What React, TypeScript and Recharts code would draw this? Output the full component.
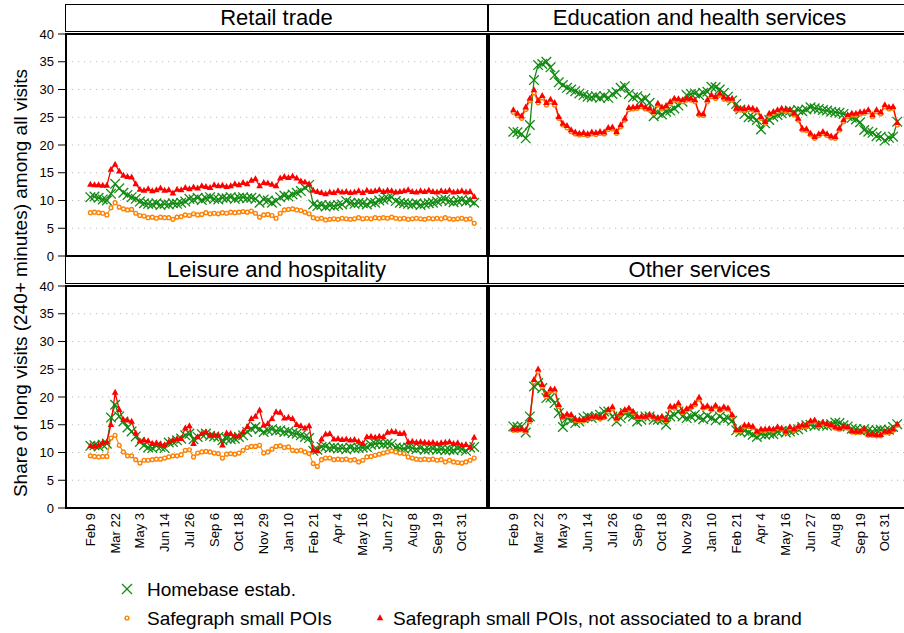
import React from 'react';
import { LineChart, Line, XAxis, YAxis, CartesianGrid } from 'recharts';

const FONT = '"Liberation Sans", Arial, Helvetica, sans-serif';
const GREEN = '#138a13';
const ORANGE = '#ff8000';
const RED = '#ff0000';

// weekly observations, first week = Feb 9 2020
const TICK_WEEKS = [0, 6, 12, 18, 24, 30, 36, 42, 48, 54, 60, 66, 72, 78, 84, 90];
const TICK_LABELS = ['Feb 9', 'Mar 22', 'May 3', 'Jun 14', 'Jul 26', 'Sep 6', 'Oct 18', 'Nov 29',
  'Jan 10', 'Feb 21', 'Apr 4', 'May 16', 'Jun 27', 'Aug 8', 'Sep 19', 'Oct 31'];
const Y_TICKS = [0, 5, 10, 15, 20, 25, 30, 35, 40];
const GRID_VALUES = [5, 10, 15, 20, 25, 30, 35];

// Retail trade
const RT_HB = [10.6, 10.7, 10.5, 10.2, 10.0, 11.2, 13.0, 12.2, 11.4, 11.0, 10.6, 10.3,
  9.8, 9.5, 9.4, 9.3, 9.5, 9.2, 9.4, 9.3, 9.5, 9.4, 9.6, 9.8,
  10.3, 10.2, 10.5, 10.1, 10.4, 10.6, 10.3, 10.2, 10.5, 10.4, 10.6, 10.3,
  10.5, 10.6, 10.4, 10.5, 10.3, 9.6, 10.2, 10.0, 9.6, 9.9, 10.6, 10.9,
  10.7, 11.1, 11.4, 11.7, 12.3, 12.8, 9.3, 9.0, 9.2, 8.9, 9.1, 9.0,
  9.2, 9.3, 9.9, 9.6, 9.4, 9.6, 9.5, 9.3, 9.7, 9.6, 10.0, 10.2,
  10.4, 10.6, 9.9, 9.6, 9.5, 9.4, 9.3, 9.5, 9.2, 9.4, 9.5, 9.6,
  9.8, 10.1, 10.2, 9.9, 9.7, 9.9, 10.1, 9.8, 10.0, 9.6];
const RT_SG = [7.8, 7.9, 7.8, 7.7, 7.4, 8.7, 9.6, 8.8, 8.5, 8.3, 8.4, 7.7,
  7.3, 7.2, 6.9, 7.0, 6.8, 7.0, 6.9, 6.9, 6.6, 7.0, 7.1, 7.4,
  7.3, 7.6, 7.4, 7.5, 7.8, 7.6, 7.7, 7.6, 7.8, 7.7, 7.9, 7.8,
  7.9, 8.0, 7.9, 8.1, 7.7, 7.0, 7.4, 7.5, 7.3, 6.8, 7.7, 8.3,
  8.4, 8.5, 8.3, 8.2, 7.9, 7.6, 6.9, 6.7, 6.8, 6.5, 6.6, 6.7,
  6.6, 6.8, 6.7, 6.6, 6.7, 6.9, 6.7, 6.8, 6.7, 6.9, 6.8, 6.9,
  6.8, 7.0, 6.8, 6.7, 6.8, 6.6, 6.7, 6.8, 6.7, 6.6, 6.8, 6.7,
  6.8, 6.7, 6.9, 6.7, 6.6, 6.7, 6.8, 6.6, 6.7, 5.9];
const RT_SGNB = [12.9, 12.8, 12.8, 12.7, 12.7, 15.6, 16.5, 15.3, 14.5, 14.3, 14.2, 13.0,
  12.0, 11.8, 12.1, 11.7, 11.9, 12.2, 11.8, 11.9, 11.3, 12.0, 11.9, 12.3,
  12.1, 12.4, 12.2, 12.6, 12.5, 12.3, 12.8, 12.6, 12.7, 12.5, 12.6, 13.0,
  12.8, 13.2, 13.0, 13.6, 13.9, 12.6, 13.2, 13.1, 12.9, 12.6, 14.0, 14.3,
  14.1, 14.4, 14.0, 13.5, 13.3, 13.0, 11.8, 11.6, 11.4, 11.2, 11.5, 11.4,
  11.7, 11.5, 11.6, 11.4, 11.5, 11.7, 11.4, 11.8, 11.6, 11.7, 11.9, 11.6,
  11.8, 11.7, 11.5, 11.6, 11.7, 11.9, 11.6, 11.5, 11.7, 11.6, 11.8, 11.6,
  11.5, 11.7, 11.6, 11.8, 11.5, 11.6, 11.7, 11.5, 11.6, 10.7];

// Education and health services
const ED_HB = [22.4, 22.3, 22.0, 21.2, 23.6, 31.7, 34.4, 34.6, 35.0, 34.0, 32.6, 31.3,
  30.8, 30.3, 30.0, 29.7, 29.3, 29.0, 28.7, 28.6, 28.8, 28.5, 28.8, 28.5,
  29.2, 29.5, 30.3, 30.6, 29.2, 28.6, 28.8, 28.1, 28.4, 27.6, 25.2, 25.8,
  25.5, 26.0, 26.2, 26.6, 27.1, 27.8, 29.0, 29.2, 29.3, 29.0, 29.4, 29.6,
  30.5, 30.4, 30.0, 29.4, 28.7, 28.0, 27.4, 26.4, 25.6, 25.0, 25.0, 24.5,
  22.8, 23.9, 24.5, 25.1, 25.4, 25.7, 26.0, 26.2, 26.0, 26.3, 26.1, 26.4,
  26.8, 26.6, 26.5, 26.3, 26.2, 26.0, 25.9, 25.8, 25.6, 25.2, 24.9, 24.6,
  24.1, 22.7, 22.4, 22.2, 21.6, 21.5, 20.8, 21.3, 21.5, 24.2];
const ED_SG = [25.9, 25.3, 24.8, 26.4, 28.0, 29.4, 27.6, 28.5, 27.2, 27.8, 27.2, 24.8,
  23.6, 23.1, 22.4, 22.0, 21.8, 21.9, 21.7, 22.0, 21.9, 22.1, 22.0, 22.8,
  22.9, 22.1, 23.3, 24.5, 26.4, 26.5, 26.6, 26.9, 26.5, 26.3, 25.7, 27.2,
  26.5, 26.8, 27.5, 28.1, 28.0, 27.8, 28.1, 28.1, 27.8, 25.4, 25.3, 27.8,
  28.7, 28.4, 29.0, 28.3, 28.1, 28.1, 26.3, 26.3, 26.2, 26.4, 26.3, 26.0,
  24.8, 23.9, 25.4, 25.7, 26.0, 26.3, 26.1, 26.0, 25.4, 24.5, 22.7, 22.6,
  21.8, 21.2, 21.7, 22.1, 21.7, 21.3, 21.2, 22.7, 24.2, 25.1, 25.4, 25.4,
  25.6, 25.7, 26.0, 25.1, 26.0, 25.6, 26.9, 26.5, 26.6, 23.6];
const ED_SGNB = [26.3, 25.7, 25.2, 26.8, 28.4, 29.9, 28.0, 28.9, 27.6, 28.2, 27.6, 25.1,
  23.9, 23.5, 22.7, 22.3, 22.1, 22.2, 22.0, 22.3, 22.2, 22.4, 22.3, 23.1,
  23.2, 22.4, 23.6, 24.8, 26.7, 26.8, 26.9, 27.2, 26.8, 26.6, 26.0, 27.5,
  26.8, 27.1, 27.8, 28.4, 28.3, 28.1, 28.4, 28.4, 28.1, 25.7, 25.6, 28.1,
  29.0, 28.7, 29.3, 28.6, 28.4, 28.4, 26.6, 26.6, 26.5, 26.7, 26.6, 26.3,
  25.1, 24.2, 25.7, 26.0, 26.3, 26.6, 26.4, 26.3, 25.7, 24.8, 23.0, 22.9,
  22.1, 21.5, 22.0, 22.4, 22.0, 21.6, 21.5, 23.0, 24.5, 25.4, 25.7, 25.7,
  25.9, 26.0, 26.3, 25.4, 26.3, 25.9, 27.2, 26.8, 26.9, 24.0];

// Leisure and hospitality
const LH_HB = [11.2, 11.3, 11.1, 11.4, 11.6, 16.3, 18.6, 16.5, 15.6, 14.5, 13.8, 12.9,
  11.9, 11.3, 10.9, 10.8, 11.2, 11.0, 10.8, 11.8, 11.9, 12.2, 12.5, 13.1,
  13.4, 12.4, 12.8, 13.3, 13.4, 13.0, 12.9, 12.8, 12.2, 12.5, 12.4, 12.5,
  12.8, 13.1, 13.7, 14.3, 14.6, 14.2, 13.7, 14.0, 14.2, 13.9, 14.0, 13.7,
  13.8, 13.5, 13.4, 13.1, 12.8, 12.6, 10.3, 10.5, 11.0, 11.1, 10.8, 10.9,
  10.7, 10.8, 10.6, 10.9, 10.7, 10.8, 10.9, 11.0, 11.4, 11.6, 11.7, 11.5,
  11.6, 11.5, 10.9, 10.8, 10.7, 10.9, 10.8, 10.6, 10.8, 10.5, 10.6, 10.7,
  10.5, 10.6, 10.4, 10.5, 10.4, 10.7, 10.6, 10.3, 10.9, 11.0];
const LH_SG = [9.4, 9.3, 9.2, 9.3, 9.3, 12.6, 13.1, 11.3, 10.1, 9.4, 9.4, 8.7,
  8.1, 8.6, 8.6, 8.7, 8.8, 8.8, 9.0, 9.2, 9.4, 9.4, 9.6, 10.4,
  10.5, 9.2, 9.9, 10.1, 10.2, 10.1, 9.9, 9.8, 9.0, 9.7, 9.8, 9.7,
  9.9, 10.4, 10.9, 11.1, 11.1, 11.3, 9.9, 10.1, 10.6, 11.1, 11.2, 10.9,
  11.0, 10.4, 10.3, 10.4, 10.1, 9.8, 8.0, 7.5, 8.7, 9.0, 9.0, 8.7,
  8.8, 8.7, 8.8, 8.6, 8.7, 8.3, 8.6, 9.2, 9.3, 9.5, 9.7, 9.9,
  10.1, 10.3, 10.1, 9.9, 9.8, 9.2, 9.0, 8.8, 8.7, 8.8, 8.7, 8.8,
  8.6, 8.7, 8.3, 8.6, 8.3, 8.2, 8.1, 8.3, 8.6, 9.0];
const LH_SGNB = [11.2, 11.1, 11.3, 11.8, 11.9, 15.0, 20.8, 17.7, 15.9, 15.8, 15.6, 13.5,
  12.1, 12.2, 12.1, 11.6, 11.7, 11.5, 11.3, 11.9, 12.2, 12.5, 12.5, 14.4,
  14.8, 11.6, 12.8, 13.4, 13.7, 13.1, 13.1, 13.1, 11.3, 13.5, 13.4, 13.0,
  13.0, 13.7, 14.6, 16.1, 16.5, 17.6, 14.9, 15.2, 16.1, 17.3, 17.2, 16.2,
  16.3, 16.1, 15.0, 14.8, 14.4, 14.8, 10.4, 10.3, 12.4, 13.3, 13.4, 12.4,
  12.5, 12.3, 12.4, 12.2, 12.3, 12.0, 11.6, 12.8, 12.9, 12.7, 12.9, 12.8,
  13.6, 13.8, 13.7, 13.4, 13.5, 11.9, 12.0, 11.8, 11.9, 11.8, 11.7, 11.8,
  11.6, 11.7, 11.8, 11.9, 11.6, 11.7, 11.3, 11.4, 10.9, 12.7];

// Other services
const OS_HB = [14.7, 14.6, 14.7, 13.6, 16.5, 21.9, 22.5, 21.6, 19.8, 19.9, 18.9, 17.1,
  14.6, 16.2, 15.8, 15.3, 15.6, 16.2, 16.5, 16.2, 16.5, 16.8, 17.4, 17.4,
  16.5, 15.6, 16.2, 17.1, 16.8, 16.5, 15.6, 15.9, 16.5, 16.5, 15.9, 15.9,
  15.9, 15.0, 16.5, 16.8, 17.4, 16.5, 16.2, 16.5, 16.8, 16.3, 16.0, 16.6,
  16.2, 15.8, 16.5, 16.0, 16.2, 15.7, 14.0, 13.7, 13.9, 13.6, 13.2, 12.8,
  13.3, 13.2, 13.4, 13.3, 13.7, 13.9, 13.6, 13.8, 14.0, 14.2, 14.6, 14.9,
  15.0, 14.8, 15.1, 14.9, 14.8, 15.1, 15.4, 15.3, 14.9, 14.7, 14.3, 14.2,
  14.0, 14.2, 14.0, 13.8, 14.0, 14.1, 13.9, 14.1, 14.6, 15.1];
const OS_SG = [14.0, 14.0, 14.1, 13.8, 15.6, 22.7, 24.6, 21.9, 20.1, 21.1, 21.0, 18.3,
  16.3, 16.7, 16.6, 15.8, 15.7, 15.7, 16.0, 16.3, 16.3, 16.1, 16.3, 17.4,
  17.9, 16.0, 16.9, 17.5, 17.8, 17.2, 16.3, 16.3, 16.3, 16.6, 16.3, 16.0,
  16.3, 15.7, 18.0, 18.0, 18.6, 17.2, 17.7, 18.1, 18.6, 19.6, 18.0, 18.2,
  17.7, 18.3, 17.6, 18.0, 17.8, 16.6, 13.9, 13.9, 14.7, 14.7, 14.5, 13.6,
  14.0, 14.0, 14.1, 14.0, 14.4, 14.2, 13.6, 14.4, 14.0, 14.5, 14.7, 14.7,
  15.5, 15.6, 14.8, 15.2, 15.0, 14.8, 14.4, 14.2, 14.5, 14.4, 13.7, 13.6,
  13.6, 14.0, 13.1, 13.1, 13.0, 13.0, 13.6, 13.6, 14.0, 14.9];
const OS_SGNB = [14.2, 14.2, 14.3, 14.0, 15.9, 23.1, 25.0, 22.2, 20.4, 21.4, 21.4, 18.6,
  16.5, 16.9, 16.8, 16.0, 15.9, 15.9, 16.2, 16.5, 16.5, 16.3, 16.5, 17.7,
  18.2, 16.2, 17.1, 17.7, 18.0, 17.4, 16.5, 16.5, 16.5, 16.8, 16.5, 16.2,
  16.5, 15.9, 18.3, 18.3, 18.9, 17.4, 17.9, 18.3, 18.9, 19.9, 18.2, 18.4,
  17.9, 18.5, 17.8, 18.2, 18.0, 16.8, 14.1, 14.1, 14.9, 14.9, 14.7, 13.8,
  14.2, 14.2, 14.3, 14.2, 14.6, 14.4, 13.8, 14.6, 14.2, 14.7, 14.9, 14.9,
  15.7, 15.8, 15.0, 15.4, 15.2, 15.0, 14.6, 14.4, 14.7, 14.6, 13.9, 13.8,
  13.8, 14.2, 13.3, 13.3, 13.2, 13.2, 13.8, 13.8, 14.2, 15.1];

const PLOT_W = 421;
const PLOT_H = 222;
const PAD = 10; // room for the 0 / 40 labels
const X_DOMAIN = [-5.9, 96.1];

const XMark = ({ cx, cy, size = 4.8 }: any) => (
  <g stroke={GREEN} strokeWidth={1.3}>
    <line x1={cx - size} y1={cy - size} x2={cx + size} y2={cy + size} />
    <line x1={cx - size} y1={cy + size} x2={cx + size} y2={cy - size} />
  </g>
);
const Circ = ({ cx, cy }: any) => (
  <circle cx={cx} cy={cy} r={1.9} fill="#fff" stroke={ORANGE} strokeWidth={1.4} />
);
const Tri = ({ cx, cy }: any) => (
  <polygon points={`${cx},${cy - 3.7} ${cx - 3.3},${cy + 2.3} ${cx + 3.3},${cy + 2.3}`} fill={RED} />
);

const XTick = (props: any) => {
  const { x, y, payload } = props;
  const idx = TICK_WEEKS.indexOf(payload.value);
  return (
    <text x={x} y={y} transform={`rotate(-90 ${x} ${y})`} textAnchor="end" dominantBaseline="central"
      fontSize={13} fill="#000" fontFamily={FONT}>
      {TICK_LABELS[idx]}
    </text>
  );
};

function Panel({ title, left, top, hb, sg, sgnb, showY, showX }: any) {
  const data = hb.map((v: number, i: number) => ({ w: i, hb: v, sg: sg[i], sgnb: sgnb[i] }));
  const yw = showY ? 66 : 0;
  const xh = showX ? 60 : PAD;
  return (
    <>
      <div style={{
        position: 'absolute', left: left - 1, top: top - 30, width: PLOT_W + 2, height: 28,
        border: '1px solid #000', boxSizing: 'border-box', textAlign: 'center',
        fontSize: 22, lineHeight: '26px', color: '#000', whiteSpace: 'nowrap'
      }}>{title}</div>
      <div style={{ position: 'absolute', left: left - yw, top: top - PAD }}>
        <LineChart width={PLOT_W + yw} height={PLOT_H + xh + PAD} data={data}
          margin={{ top: PAD, right: 0, bottom: showX ? 0 : PAD, left: 0 }}>
          <CartesianGrid vertical={false} horizontalValues={GRID_VALUES} stroke="#bdbdbd"
            strokeWidth={1.2} strokeDasharray="1.2 4.8" />
          <XAxis dataKey="w" type="number" domain={X_DOMAIN} ticks={TICK_WEEKS} interval={0}
            allowDataOverflow hide={!showX} height={60} axisLine={false} tickLine={false}
            tickSize={0} tickMargin={5} tick={(p: any) => <XTick {...p} />} />
          <YAxis type="number" domain={[0, 40]} ticks={Y_TICKS} interval={0} hide={!showY}
            width={66} axisLine={false} tickSize={8} tickMargin={4}
            tickLine={{ stroke: '#000' }} tick={{ fill: '#000', fontSize: 13, fontFamily: FONT }} />
          <Line dataKey="hb" stroke={GREEN} strokeWidth={1.3} isAnimationActive={false} activeDot={false}
            dot={(p: any) => <XMark key={`hb-${p.index}`} cx={p.cx} cy={p.cy} />} />
          <Line dataKey="sg" stroke={ORANGE} strokeWidth={1.1} isAnimationActive={false} activeDot={false}
            dot={(p: any) => <Circ key={`sg-${p.index}`} cx={p.cx} cy={p.cy} />} />
          <Line dataKey="sgnb" stroke={RED} strokeWidth={1.3} isAnimationActive={false} activeDot={false}
            dot={(p: any) => <Tri key={`sgnb-${p.index}`} cx={p.cx} cy={p.cy} />} />
        </LineChart>
      </div>
      <div style={{
        position: 'absolute', left: left - 1, top: top - 1, width: PLOT_W + 2, height: PLOT_H + 2,
        border: '2px solid #000', boxSizing: 'border-box', pointerEvents: 'none'
      }} />
    </>
  );
}

export default function App() {
  return (
    <div style={{
      position: 'absolute', left: 0, top: 0, width: 904, height: 633, overflow: 'hidden',
      background: '#fff', fontFamily: FONT
    }}>
      <Panel title="Retail trade" left={66} top={34} hb={RT_HB} sg={RT_SG} sgnb={RT_SGNB} showY showX={false} />
      <Panel title="Education and health services" left={489} top={34} hb={ED_HB} sg={ED_SG} sgnb={ED_SGNB}
        showY={false} showX={false} />
      <Panel title="Leisure and hospitality" left={66} top={286} hb={LH_HB} sg={LH_SG} sgnb={LH_SGNB} showY showX />
      <Panel title="Other services" left={489} top={286} hb={OS_HB} sg={OS_SG} sgnb={OS_SGNB} showY={false} showX />
      <svg width={904} height={633} style={{ position: 'absolute', left: 0, top: 0, pointerEvents: 'none' }}>
        <text x={20} y={283} transform="rotate(-90 20 283)" textAnchor="middle" dominantBaseline="central"
          fontSize={19} fontFamily={FONT} fill="#000">
          Share of long visits (240+ minutes) among all visits
        </text>
        <XMark cx={127} cy={589} size={5} />
        <text x={147} y={589} dominantBaseline="central" fontSize={19} fontFamily={FONT} fill="#000">Homebase estab.</text>
        <Circ cx={127} cy={618} />
        <text x={147} y={618} dominantBaseline="central" fontSize={19} fontFamily={FONT} fill="#000">Safegraph small POIs</text>
        <Tri cx={380} cy={618} />
        <text x={393} y={618} dominantBaseline="central" fontSize={19} fontFamily={FONT} fill="#000">Safegraph small POIs, not associated to a brand</text>
      </svg>
    </div>
  );
}
